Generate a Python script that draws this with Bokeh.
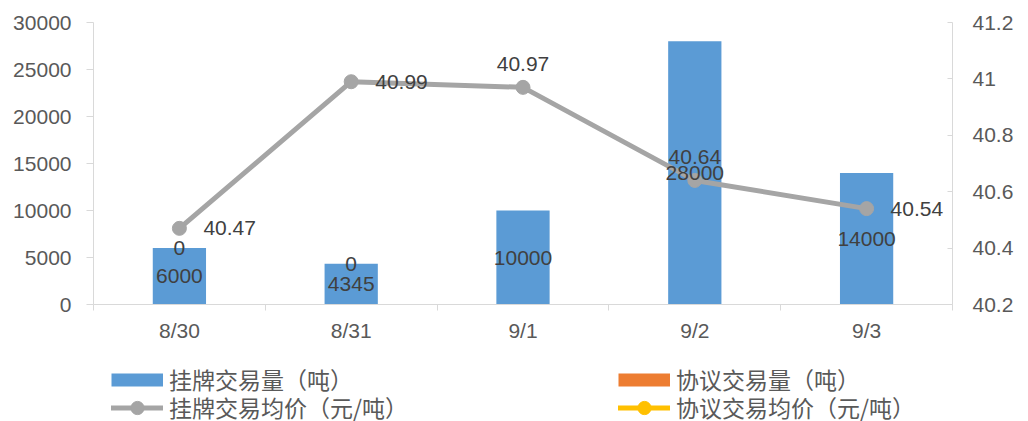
from bokeh.plotting import figure
from bokeh.layouts import column
from bokeh.models import Range1d, LinearAxis, FixedTicker, Legend, LegendItem, ColumnDataSource
from bokeh.core.properties import value
from bokeh.embed import file_html
from bokeh.resources import INLINE

# ---- data ----
dates = ["8/30", "8/31", "9/1", "9/2", "9/3"]
listed_volume = [6000, 4345, 10000, 28000, 14000]          # 挂牌交易量（吨）
negotiated_volume = [0, 0, None, None, None]               # 协议交易量（吨）
listed_price = [40.47, 40.99, 40.97, 40.64, 40.54]         # 挂牌交易均价（元/吨）
negotiated_price = [None, None, None, None, None]          # 协议交易均价（元/吨）
price_label_pos = ["right", "right", "above", "above", "right"]
left_ticks = [0, 5000, 10000, 15000, 20000, 25000, 30000]
right_ticks = [40.2, 40.4, 40.6, 40.8, 41.0, 41.2]
right_tick_labels = ["40.2", "40.4", "40.6", "40.8", "41", "41.2"]
series_names = ["挂牌交易量（吨）", "协议交易量（吨）", "挂牌交易均价（元/吨）", "协议交易均价（元/吨）"]

BLUE, ORANGE, GREY, YELLOW = "#5b9bd5", "#ed7d31", "#a5a5a5", "#ffc000"
AXIS_C, TEXT_C, LABEL_C = "#d9d9d9", "#595959", "#404040"
FONT = "Liberation Sans"
CJK = "Noto Sans CJK SC"

xs = list(range(len(dates)))
nan = float("nan")
neg = [nan if v is None else v for v in negotiated_volume]
neg_top = [a + b if b == b else nan for a, b in zip(listed_volume, neg)]
negp = [nan if v is None else v for v in negotiated_price]

src = ColumnDataSource(dict(
    x=xs, listed=listed_volume, mid=[v / 2 for v in listed_volume],
    listed_txt=[str(v) for v in listed_volume],
    neg_top=neg_top,
    neg_txt=["" if v != v else str(int(v)) for v in neg],
    price=listed_price, negp=negp,
    price_txt=["%.2f" % v for v in listed_price],
    px_off=[24 if pos == "right" else 0 for pos in price_label_pos],
    py_off=[0 if pos == "right" else -23 for pos in price_label_pos],
    palign=["left" if pos == "right" else "center" for pos in price_label_pos],
))

p = figure(width=1028, height=360, output_backend="svg", toolbar_location=None,
           x_range=Range1d(-0.5, len(dates) - 0.5), y_range=Range1d(0, 30000),
           min_border_left=93, min_border_right=76, min_border_top=22, min_border_bottom=56)
p.xgrid.visible = False
p.ygrid.visible = False
p.outline_line_color = None
p.background_fill_color = "white"
p.border_fill_color = "white"

p.extra_y_ranges = {"price": Range1d(40.2, 41.2)}

# x axis
xa = p.xaxis[0]
xa.ticker = FixedTicker(ticks=xs, minor_ticks=[i - 0.5 for i in range(len(dates) + 1)])
xa.major_label_overrides = {i: d for i, d in enumerate(dates)}
xa.major_tick_out = 0
xa.major_tick_in = 0
xa.minor_tick_out = 6
xa.minor_tick_in = 0
xa.minor_tick_line_color = AXIS_C
xa.axis_line_color = AXIS_C
xa.major_label_text_font = FONT
xa.major_label_text_font_size = "21px"
xa.major_label_text_color = TEXT_C
xa.major_label_standoff = 8

# left y axis
ya = p.yaxis[0]
ya.ticker = FixedTicker(ticks=left_ticks)
ya.major_tick_out = 7
ya.major_tick_in = 0
ya.minor_tick_out = 0
ya.minor_tick_in = 0
ya.major_tick_line_color = AXIS_C
ya.axis_line_color = AXIS_C
ya.major_label_text_font = FONT
ya.major_label_text_font_size = "21px"
ya.major_label_text_color = TEXT_C
ya.major_label_standoff = 15

# right y axis
ra = LinearAxis(y_range_name="price", ticker=FixedTicker(ticks=right_ticks))
ra.major_label_overrides = {t: l for t, l in zip(right_ticks, right_tick_labels)}
ra.major_tick_out = 0
ra.major_tick_in = 5
ra.minor_tick_out = 0
ra.minor_tick_in = 0
ra.major_tick_line_color = AXIS_C
ra.axis_line_color = AXIS_C
ra.major_label_text_font = FONT
ra.major_label_text_font_size = "21px"
ra.major_label_text_color = TEXT_C
ra.major_label_standoff = 20
p.add_layout(ra, "right")

# bars (stacked)
p.vbar(x="x", width=0.31, bottom=0, top="listed", source=src,
       fill_color=BLUE, line_color=None)
p.vbar(x="x", width=0.31, bottom="listed", top="neg_top", source=src,
       fill_color=ORANGE, line_color=None)

# lines
p.line(x="x", y="price", source=src, y_range_name="price",
       line_color=GREY, line_width=5)
p.scatter(x="x", y="price", source=src, y_range_name="price",
          size=14, fill_color=GREY, line_color=GREY)
p.line(x="x", y="negp", source=src, y_range_name="price",
       line_color=YELLOW, line_width=5)
p.scatter(x="x", y="negp", source=src, y_range_name="price",
          size=14, fill_color=YELLOW, line_color=YELLOW)

# data labels
p.text(x="x", y="mid", text="listed_txt", source=src, text_align="center",
       text_baseline="middle", text_font=value(FONT), text_font_size="21px",
       text_color=LABEL_C)
p.text(x="x", y="neg_top", text="neg_txt", source=src, text_align="center",
       text_baseline="middle", text_font=value(FONT), text_font_size="21px",
       text_color=LABEL_C)
p.text(x="x", y="price", text="price_txt", source=src, y_range_name="price",
       x_offset="px_off", y_offset="py_off", text_align="palign",
       text_baseline="middle", text_font=value(FONT), text_font_size="21px",
       text_color=LABEL_C)

# ---- legend strip (separate figure; swatch renderers hold only NaN) ----
lf = figure(width=1028, height=61, output_backend="svg", toolbar_location=None,
            x_axis_type=None, y_axis_type=None,
            min_border_left=93, min_border_right=76, min_border_top=0, min_border_bottom=0,
            x_range=Range1d(0, 1), y_range=Range1d(0, 1))
lf.xgrid.visible = False
lf.ygrid.visible = False
lf.outline_line_color = None
lf.background_fill_color = "white"
lf.border_fill_color = "white"

swatch = ColumnDataSource(dict(x=[nan], y=[nan]))
sw1 = lf.line(x="x", y="y", source=swatch, line_color=BLUE, line_width=13, line_cap="butt")
sw2 = lf.line(x="x", y="y", source=swatch, line_color=ORANGE, line_width=13, line_cap="butt")
sl1 = lf.line(x="x", y="y", source=swatch, line_color=GREY, line_width=5, line_cap="round")
sp1 = lf.scatter(x="x", y="y", source=swatch, fill_color=GREY, line_color=GREY)
sl2 = lf.line(x="x", y="y", source=swatch, line_color=YELLOW, line_width=5, line_cap="round")
sp2 = lf.scatter(x="x", y="y", source=swatch, fill_color=YELLOW, line_color=YELLOW)

common = dict(orientation="horizontal", glyph_width=52, label_width=449,
              label_standoff=6, padding=0, margin=0, spacing=0,
              border_line_color=None, background_fill_alpha=0,
              label_text_font=CJK, label_text_font_size="23px",
              label_text_color=TEXT_C)
leg1 = Legend(items=[LegendItem(label=series_names[0], renderers=[sw1]),
                     LegendItem(label=series_names[1], renderers=[sw2])],
              location=(18, 25), glyph_height=27, label_height=27, **common)
leg2 = Legend(items=[LegendItem(label=series_names[2], renderers=[sl1, sp1]),
                     LegendItem(label=series_names[3], renderers=[sl2, sp2])],
              location=(18, -3), glyph_height=33, label_height=33, **common)
lf.add_layout(leg1)
lf.add_layout(leg2)

layout = column(p, lf, spacing=0)
open("out.html", "w").write(file_html(layout, INLINE))
